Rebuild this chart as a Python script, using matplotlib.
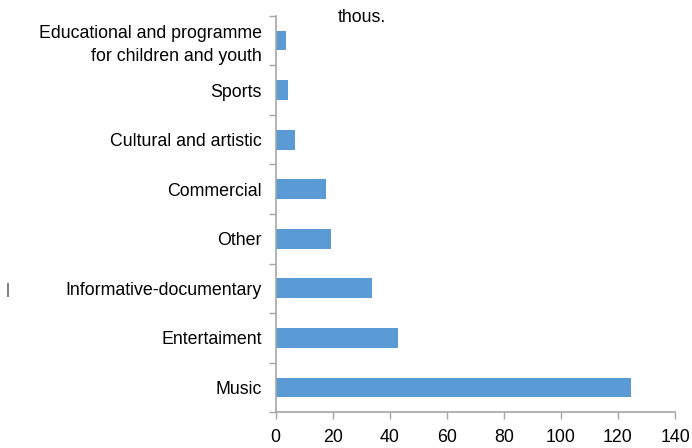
import matplotlib
matplotlib.use("Agg")
import matplotlib.pyplot as plt
import numpy as np
from matplotlib import font_manager

categories = ["Educational and programme\nfor children and youth", "Sports",
              "Cultural and artistic", "Commercial", "Other",
              "Informative-documentary", "Entertaiment", "Music"]
values = [3.6, 4.3, 6.9, 17.5, 19.3, 33.7, 43.0, 124.6]
xticks = [0, 20, 40, 60, 80, 100, 120, 140]

names = {f.name for f in font_manager.fontManager.ttflist}
narrow = "Liberation Sans Narrow" in names
if narrow:
    plt.rcParams['font.family'] = ['Liberation Sans Narrow', 'DejaVu Sans']
    fs = 14.8
else:
    plt.rcParams['font.family'] = ['Liberation Sans', 'DejaVu Sans']
    fs = 12.8
axis_col = "#a6a6a6"

fig = plt.figure(figsize=(6.92, 4.48), dpi=100)
ax = fig.add_axes([275.7/692, 1-412.3/448, (675-275.7)/692, (412.3-15.7)/448])

cats = categories[::-1]
vals = values[::-1]
pos = np.arange(len(cats))
ax.barh(pos, vals, height=0.4, color="#5b9bd5")

ax.set_xlim(0, 140)
ax.set_ylim(-0.5, len(cats) - 0.5)
ax.set_xticks(xticks)
ax.set_xticklabels([str(t) for t in xticks], fontsize=fs)

ax.set_yticks(np.arange(-0.5, len(cats), 1.0))
ax.set_yticklabels([])
ax.set_yticks(pos, minor=True)
ax.set_yticklabels(cats, minor=True, fontsize=fs, ha="right", linespacing=1.4)
ax.tick_params(axis="y", which="major", length=5, width=1.0, color=axis_col, direction="out")
ax.tick_params(axis="y", which="minor", length=0, pad=10)
ax.tick_params(axis="x", length=5, width=1.0, color=axis_col, direction="out", pad=7)

for s in ["top", "right"]:
    ax.spines[s].set_visible(False)
for s in ["left", "bottom"]:
    ax.spines[s].set_color(axis_col)
    ax.spines[s].set_linewidth(1.2)

fig.text(338/692, 1-18/448, "thous.", fontsize=fs, ha="left", va="center")
fig.text(8/692, 1-290/448, "|", fontsize=11, ha="center", va="center", color="#333333")

fig.savefig("out.png", dpi=100)
